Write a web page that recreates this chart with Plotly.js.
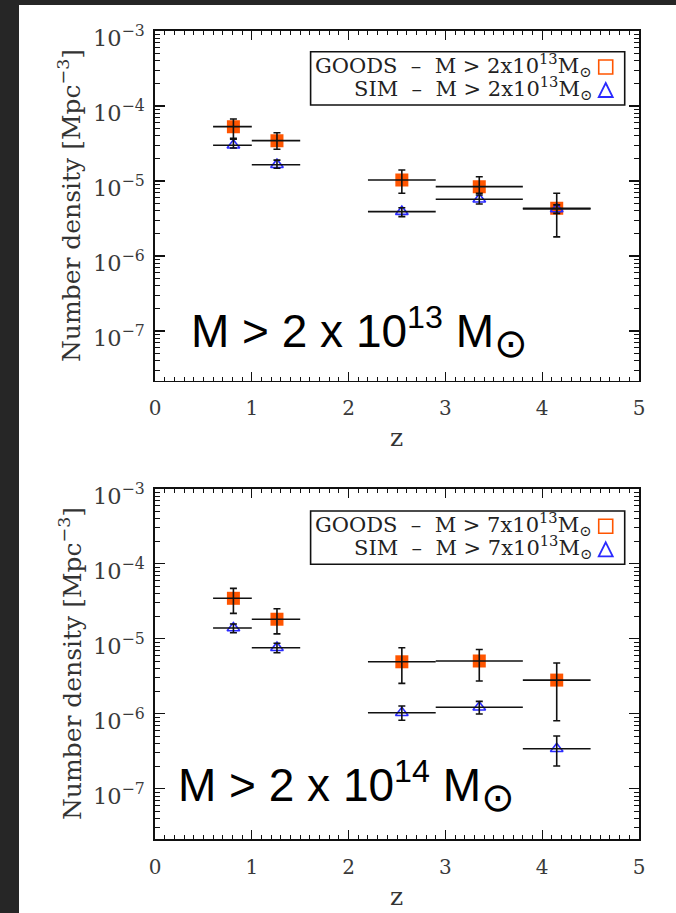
<!DOCTYPE html>
<html><head><meta charset="utf-8">
<script src="https://cdn.plot.ly/plotly-3.0.1.min.js"></script>
<style>
html,body{margin:0;padding:0;background:#262626;width:676px;height:913px;overflow:hidden;}
#chart{position:absolute;left:19px;top:5px;width:657px;height:908px;background:#fff;}
</style></head><body><div id="chart"></div>
<script>
// redshift bins
const zCenter = [0.81, 1.26, 2.55, 3.35, 4.15];
const zLow    = [0.6, 1.0, 2.2, 2.9, 3.8];
const zHigh   = [1.0, 1.5, 2.9, 3.8, 4.5];

// panel 1: M > 2x10^13
const goodsA   = [5.3e-5, 3.45e-5, 1.03e-5, 8.4e-6, 4.33e-6];
const goodsAHi = [6.7e-5, 4.4e-5, 1.4e-5, 1.14e-5, 6.85e-6];
const goodsALo = [3.7e-5, 2.65e-5, 6.85e-6, 6.85e-6, 1.8e-6];
const simA     = [2.99e-5, 1.65e-5, 3.9e-6, 5.7e-6, 4.23e-6];
const simAHi   = [3.6e-5, 1.9e-5, 4.4e-6, 6.5e-6, 4.8e-6];
const simALo   = [2.75e-5, 1.48e-5, 3.35e-6, 4.93e-6, 3.7e-6];

// panel 2: M > 7x10^13 (label M > 2x10^14)
const goodsB   = [3.46e-5, 1.82e-5, 4.93e-6, 5.05e-6, 2.81e-6];
const goodsBHi = [4.7e-5, 2.51e-5, 7.6e-6, 7.2e-6, 4.74e-6];
const goodsBLo = [2.18e-5, 1.16e-5, 2.54e-6, 2.73e-6, 8.07e-7];
const simB     = [1.39e-5, 7.6e-6, 1.03e-6, 1.22e-6, 3.41e-7];
const simBHi   = [1.57e-5, 8.7e-6, 1.27e-6, 1.46e-6, 5.05e-7];
const simBLo   = [1.2e-5, 6.5e-6, 8.2e-7, 9.9e-7, 2.01e-7];

const SP = '\u00a0';
const legendGoodsA = 'GOODS' + SP + SP + '\u2013' + SP + SP + 'M' + SP + '>' + SP + '2x10<sup>13</sup>M<sub>\u2299</sub>';
const legendSimA   = 'SIM' + SP + SP + '\u2013' + SP + SP + 'M' + SP + '>' + SP + '2x10<sup>13</sup>M<sub>\u2299</sub>';
const legendGoodsB = 'GOODS' + SP + SP + '\u2013' + SP + SP + 'M' + SP + '>' + SP + '7x10<sup>13</sup>M<sub>\u2299</sub>';
const legendSimB   = 'SIM' + SP + SP + '\u2013' + SP + SP + 'M' + SP + '>' + SP + '7x10<sup>13</sup>M<sub>\u2299</sub>';
const bigLabelA = 'M > 2 x 10<sup>13</sup> M<sub><span style="font-size:40px">\u2299</span></sub>';
const bigLabelB = 'M > 2 x 10<sup>14</sup> M<sub><span style="font-size:40px">\u2299</span></sub>';
const yTitle = 'Number density [Mpc<sup>\u22123</sup>]';
const xTitle = 'z';

const ORANGE = '#ff5500', BLUE = '#2a2aff', INK = '#111';

// page pixel -> paper coords (plot area: x 155..639.3, y 31..839)
const PL = 155, PW = 484.3, PB = 839, PH = 808;
const px = v => (v - PL) / PW;
const py = v => (PB - v) / PH;

function errs(v, hi, lo) {
  return {hi: v.map((d, i) => hi[i] - d), lo: v.map((d, i) => d - lo[i])};
}
const xErrPlus = zHigh.map((h, i) => h - zCenter[i]);
const xErrMinus = zCenter.map((c, i) => c - zLow[i]);

function panelTraces(goods, gHi, gLo, sim, sHi, sLo, xa, ya) {
  const ge = errs(goods, gHi, gLo), se = errs(sim, sHi, sLo);
  const eb = (e) => ({
    x: zCenter, xaxis: xa, yaxis: ya, type: 'scatter', mode: 'markers',
    marker: {size: 1, color: 'rgba(0,0,0,0)'}, hoverinfo: 'skip', showlegend: false,
    error_x: {type: 'data', symmetric: false, array: xErrPlus, arrayminus: xErrMinus, width: 0, thickness: 1.6, color: INK},
    error_y: {type: 'data', symmetric: false, array: e.hi, arrayminus: e.lo, width: 3.5, thickness: 1.6, color: INK}
  });
  return [
    {x: zCenter, y: goods, xaxis: xa, yaxis: ya, type: 'scatter', mode: 'markers', showlegend: false,
     marker: {symbol: 'square', size: 13, color: ORANGE, line: {width: 0}}},
    {x: zCenter, y: sim, xaxis: xa, yaxis: ya, type: 'scatter', mode: 'markers', showlegend: false,
     marker: {symbol: 'triangle-up-open', size: 11, color: BLUE, line: {width: 1.6, color: BLUE}}},
    Object.assign(eb(ge), {y: goods}),
    Object.assign(eb(se), {y: sim})
  ];
}

const data = [
  ...panelTraces(goodsA, goodsAHi, goodsALo, simA, simAHi, simALo, 'x', 'y'),
  ...panelTraces(goodsB, goodsBHi, goodsBLo, simB, simBHi, simBLo, 'x2', 'y2')
];

const xTickFont = {family: 'DejaVu Serif', size: 20, color: '#3a3a3a'};
const yTickFont = {family: 'DejaVu Serif', size: 18, color: '#3a3a3a'};
const common = {showline: true, linecolor: INK, linewidth: 1.6, mirror: 'ticks', ticks: 'inside',
  tickcolor: INK, tickwidth: 1.3, showgrid: false, zeroline: false, fixedrange: true};
const xax = (anchor) => Object.assign({}, common, {anchor: anchor, domain: [0, 1], range: [0, 5], tick0: 0, dtick: 1,
  ticklen: 9, ticklabelstandoff: 9, tickfont: xTickFont,
  minor: {ticks: 'inside', dtick: 0.1, ticklen: 4, tickcolor: INK, tickwidth: 1, showgrid: false}});
const yax = (anchor, dom, lo) => Object.assign({}, common, {anchor: anchor, domain: dom, type: 'log', range: [lo, -3],
  dtick: 1, exponentformat: 'power', showexponent: 'all', ticklen: 10, ticklabelstandoff: 5, ticklabelshift: 7,
  tickfont: yTickFont,
  minor: {ticks: 'inside', dtick: 'D1', ticklen: 5, tickcolor: INK, tickwidth: 1, showgrid: false}});

function legendBits(topPage, gText, sText) {
  const off = topPage - 51.7;
  const shapes = [
    {type: 'rect', xref: 'paper', yref: 'paper', x0: px(310.7), x1: px(625), y0: py(105 + off), y1: py(51.7 + off),
     line: {color: INK, width: 1.6}, fillcolor: 'rgba(0,0,0,0)'},
    {type: 'rect', xref: 'paper', yref: 'paper', x0: px(599), x1: px(613), y0: py(74 + off), y1: py(60 + off),
     line: {color: ORANGE, width: 1.6}},
    {type: 'path', xref: 'paper', yref: 'paper',
     path: `M ${px(606)},${py(83 + off)} L ${px(613)},${py(97 + off)} L ${px(599)},${py(97 + off)} Z`,
     line: {color: BLUE, width: 1.8}}
  ];
  const lf = {family: 'DejaVu Serif', size: 21, color: '#222'};
  const anns = [
    {xref: 'paper', yref: 'paper', x: px(594), y: py(65 + off), xanchor: 'right', yanchor: 'middle', text: gText, showarrow: false, font: lf},
    {xref: 'paper', yref: 'paper', x: px(594), y: py(88 + off), xanchor: 'right', yanchor: 'middle', text: sText, showarrow: false, font: lf}
  ];
  return {shapes, anns};
}
const LA = legendBits(51.7, legendGoodsA, legendSimA);
const LB = legendBits(511, legendGoodsB, legendSimB);

const titleFont = {family: 'DejaVu Serif', size: 25, color: '#333'};
const bigFont = {family: 'Liberation Sans, DejaVu Sans', size: 46, color: '#000'};
const annotations = [
  ...LA.anns, ...LB.anns,
  {xref: 'paper', yref: 'paper', x: px(70), y: py(206), text: yTitle, textangle: -90, showarrow: false, font: titleFont, xanchor: 'center', yanchor: 'middle'},
  {xref: 'paper', yref: 'paper', x: px(70), y: py(664), text: yTitle, textangle: -90, showarrow: false, font: titleFont, xanchor: 'center', yanchor: 'middle'},
  {xref: 'paper', yref: 'paper', x: px(397), y: py(437), text: xTitle, showarrow: false, font: titleFont, xanchor: 'center', yanchor: 'middle'},
  {xref: 'paper', yref: 'paper', x: px(397), y: py(896), text: xTitle, showarrow: false, font: titleFont, xanchor: 'center', yanchor: 'middle'},
  {xref: 'paper', yref: 'paper', x: px(189), y: py(332), text: bigLabelA, showarrow: false, font: bigFont, xanchor: 'left', yanchor: 'middle'},
  {xref: 'paper', yref: 'paper', x: px(176), y: py(786), text: bigLabelB, showarrow: false, font: bigFont, xanchor: 'left', yanchor: 'middle'}
];

const layout = {
  width: 657, height: 908, margin: {l: 136, r: 37, t: 26, b: 74},
  paper_bgcolor: '#fff', plot_bgcolor: '#fff', showlegend: false,
  xaxis: xax('y'), yaxis: yax('x', [0.5672, 1], -7.663),
  xaxis2: xax('y2'), yaxis2: yax('x2', [0, 0.4335], -7.67),
  shapes: [...LA.shapes, ...LB.shapes],
  annotations: annotations
};
Plotly.newPlot('chart', data, layout, {displayModeBar: false, staticPlot: true});
</script></body></html>
